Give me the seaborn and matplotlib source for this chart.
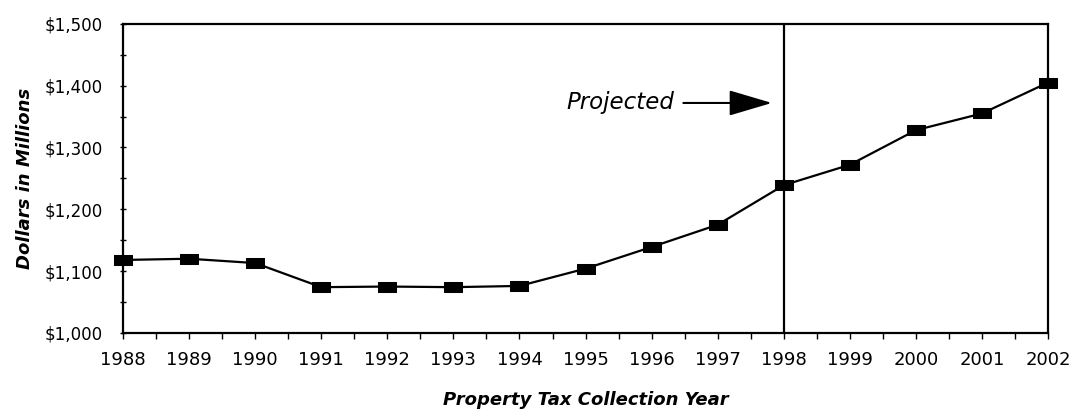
import matplotlib
matplotlib.use("Agg")
import matplotlib.pyplot as plt
import matplotlib.ticker as mticker
from matplotlib.path import Path
import seaborn as sns
import pandas as pd

# property tax collections, dollars in millions (1998 onward projected)
years = [1988, 1989, 1990, 1991, 1992, 1993, 1994, 1995,
         1996, 1997, 1998, 1999, 2000, 2001, 2002]
collections = [1118, 1120, 1113, 1074, 1075, 1074, 1076, 1104,
               1139, 1175, 1239, 1272, 1328, 1355, 1405]
projected_from = 1998
y_ticks = [1000, 1100, 1200, 1300, 1400, 1500]

df = pd.DataFrame({"year": years, "collections": collections})

sns.set_style("white")
plt.rcParams['font.family'] = ['DejaVu Sans']
plt.rcParams.update({"text.color": "black", "axes.labelcolor": "black",
                     "xtick.color": "black", "ytick.color": "black"})

fig = plt.figure(figsize=(10.7, 4.11), dpi=100)
ax = fig.add_axes([0.115, 0.190, 0.8645, 0.752])

# flat black rectangle marker
rect = Path([(-1, -0.52), (1, -0.52), (1, 0.52), (-1, 0.52), (-1, -0.52)],
            [Path.MOVETO, Path.LINETO, Path.LINETO, Path.LINETO, Path.CLOSEPOLY])

sns.lineplot(data=df, x="year", y="collections", ax=ax, color="black",
             lw=1.6, marker=rect, markersize=13.5, markeredgecolor="black",
             markerfacecolor="black", clip_on=False, zorder=3)

ax.axvline(projected_from, color="black", lw=1.6, zorder=2)

ax.annotate("", xy=(1997.82, 1372), xytext=(1996.48, 1372),
            arrowprops=dict(arrowstyle="-|>,head_length=2.7,head_width=0.8",
                            lw=1.5, color="black", mutation_scale=10,
                            shrinkA=0, shrinkB=0))
ax.text(1996.35, 1372, "Projected", ha="right", va="center",
        fontsize=16.5, style="italic")

ax.set_xlim(1988, 2002)
ax.set_ylim(1000, 1500)
ax.set_xticks(years)
ax.set_xticks([y + 0.5 for y in years[:-1]], minor=True)
ax.set_yticks(y_ticks)
ax.yaxis.set_minor_locator(mticker.MultipleLocator(50))
ax.yaxis.set_major_formatter(mticker.FuncFormatter(lambda v, p: f"${v:,.0f}"))

ax.tick_params(axis="y", which="both", left=True, direction="inout",
               length=5, width=1, labelsize=12, pad=12)
ax.tick_params(axis="x", which="both", bottom=True, direction="out",
               length=4, width=1, labelsize=13, pad=9)

for s in ax.spines.values():
    s.set_color("black")
    s.set_linewidth(1.6)

ax.set_xlabel("Property Tax Collection Year", fontsize=13, fontweight="bold",
              style="italic", labelpad=16)
ax.set_ylabel("Dollars in Millions", fontsize=13, fontweight="bold",
              style="italic", labelpad=8)

fig.savefig("out.png", dpi=100)
